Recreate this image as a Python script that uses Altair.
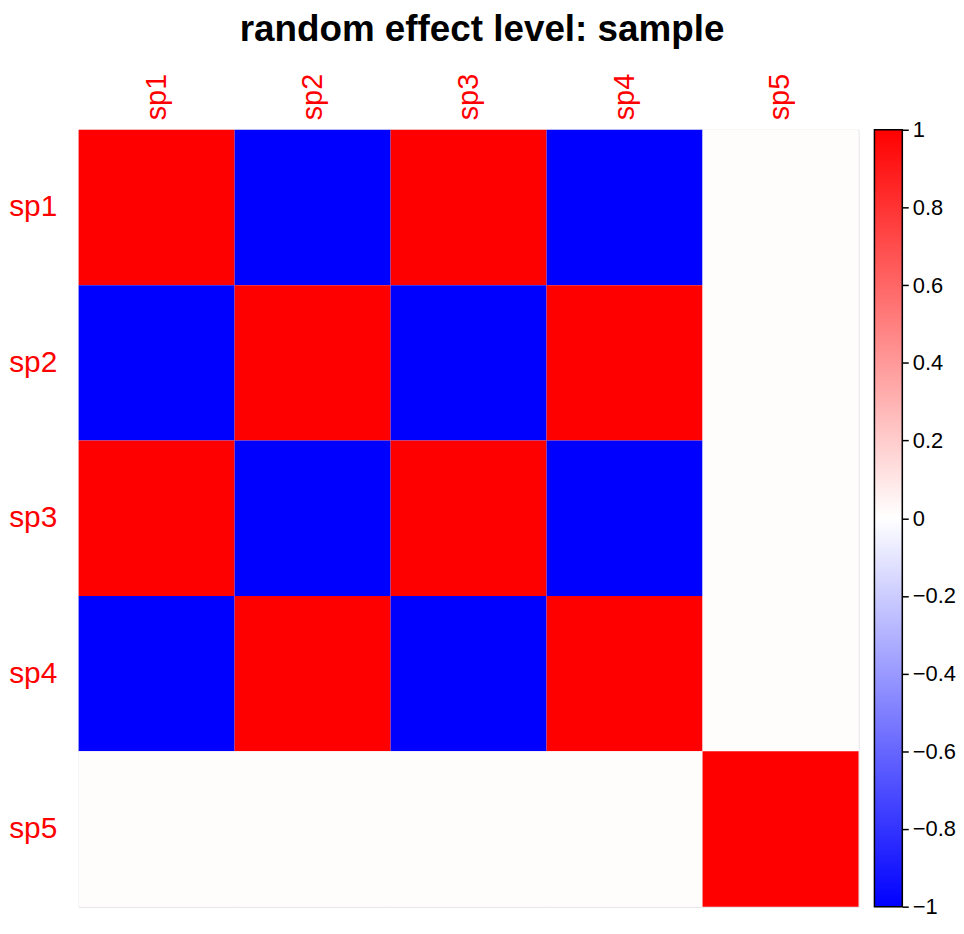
import altair as alt
import pandas as pd

species = ["sp1", "sp2", "sp3", "sp4", "sp5"]
corr = [
    [1.0, -1.0, 1.0, -1.0, 0.01],
    [-1.0, 1.0, -1.0, 1.0, 0.01],
    [1.0, -1.0, 1.0, -1.0, 0.01],
    [-1.0, 1.0, -1.0, 1.0, 0.01],
    [0.01, 0.01, 0.01, 0.01, 1.0],
]
bar_ticks = [-1, -0.8, -0.6, -0.4, -0.2, 0, 0.2, 0.4, 0.6, 0.8, 1]
title_text = "random effect level: sample"

rows = []
for i, r in enumerate(species):
    for j, c in enumerate(species):
        rows.append({"row": r, "col": c, "value": corr[i][j]})
df = pd.DataFrame(rows)

FONT = "Liberation Sans"

heat = alt.Chart(df).mark_rect().encode(
    x=alt.X("col:N", sort=species, title=None,
            scale=alt.Scale(paddingInner=0, paddingOuter=0),
            axis=alt.Axis(orient="top", labelAngle=-90, labelColor="red",
                          labelFontSize=29, labelFont=FONT, ticks=False,
                          domain=False, labelPadding=10, labelAlign="left",
                          labelBaseline="middle")),
    y=alt.Y("row:N", sort=species, title=None,
            scale=alt.Scale(paddingInner=0, paddingOuter=0),
            axis=alt.Axis(labelColor="red", labelFontSize=30, labelFont=FONT,
                          ticks=False, domain=False, labelPadding=22,
                          labelAlign="right")),
    color=alt.Color("value:Q",
                    scale=alt.Scale(domain=[-1, 0, 1], range=["#0000FF", "#FFFFFF", "#FF0000"],
                                    interpolate="rgb"),
                    legend=None),
).properties(width=784, height=781)

bar_df = pd.DataFrame({"x": [0], "x2": [1], "top": [1], "bottom": [-1]})
grad = alt.LinearGradient(
    gradient="linear",
    stops=[alt.GradientStop(color="#0000FF", offset=0),
           alt.GradientStop(color="#FFFFFF", offset=0.5),
           alt.GradientStop(color="#FF0000", offset=1)],
    x1=0, x2=0, y1=1, y2=0,
)
colorbar = alt.Chart(bar_df).mark_rect(color=grad, stroke="black", strokeWidth=1.5).encode(
    x=alt.X("x:Q", scale=alt.Scale(domain=[0, 1], nice=False, zero=False), axis=None),
    x2="x2:Q",
    y=alt.Y("top:Q", scale=alt.Scale(domain=[-1, 1], nice=False, zero=False), title=None,
            axis=alt.Axis(orient="right", values=bar_ticks, grid=False, domain=False,
                          tickColor="black", tickSize=6, tickWidth=1.5,
                          labelFontSize=22, labelFont=FONT, labelColor="black",
                          labelPadding=4,
                          labelExpr="replace(format(datum.value, '.1~f'), '-', '\u2212')")),
    y2="bottom:Q",
).properties(width=28, height=781)

chart = alt.hconcat(heat, colorbar, spacing=13).properties(
    title=alt.TitleParams(title_text, fontSize=37, font=FONT, fontWeight="bold",
                          anchor="middle", offset=22, dy=-2, color="black"),
    padding=0,
).configure_view(stroke=None).configure(background="white")

chart.save("out.html", embed_options={"renderer": "svg", "actions": False})
